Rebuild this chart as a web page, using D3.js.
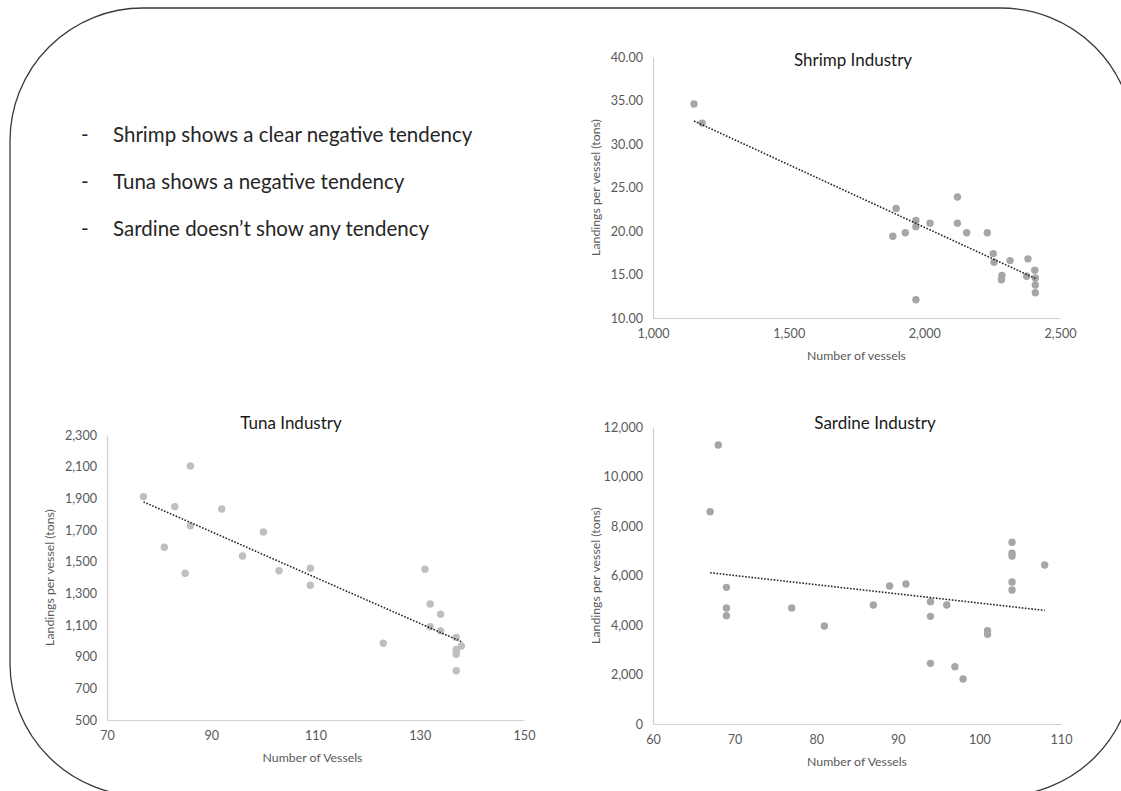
<!DOCTYPE html>
<html>
<head>
<meta charset="utf-8">
<script src="https://cdn.jsdelivr.net/npm/d3@7"></script>
<style>
  html, body { margin: 0; padding: 0; background: #fff; }
  svg { display: block; }
  text { font-family: Lato, "Open Sans", sans-serif; }
</style>
</head>
<body>
<svg id="slide" width="1121" height="791"></svg>
<script>
// ---- Shrimp industry: number of vessels vs landings per vessel (tons)
const shrimpVessels  = [1151, 1181, 1896, 1884, 1930, 1969, 1969, 2021, 2122, 2122, 2156, 2232,
                        2254, 2257, 2316, 2286, 2284, 2382, 2377, 2407, 2409, 2409, 2409, 1969];
const shrimpLandings = [34.6, 32.4, 22.6, 19.4, 19.8, 21.2, 20.5, 20.9, 23.9, 20.9, 19.8, 19.8,
                        17.4, 16.4, 16.6, 14.9, 14.4, 16.8, 14.8, 15.5, 14.6, 13.8, 12.9, 12.1];
const shrimpXTicks = [1000, 1500, 2000, 2500];
const shrimpYTicks = [10, 15, 20, 25, 30, 35, 40];

// ---- Tuna industry
const tunaVessels  = [77, 86, 83, 86, 81, 92, 85, 96, 100, 103, 109, 109,
                      131, 132, 134, 132, 134, 123, 137, 138, 137, 137, 137, 137];
const tunaLandings = [1911, 2105, 1847, 1727, 1591, 1833, 1427, 1536, 1688, 1443, 1458, 1351,
                      1452, 1233, 1168, 1089, 1062, 985, 1022, 967, 946, 931, 915, 811];
const tunaXTicks = [70, 90, 110, 130, 150];
const tunaYTicks = [500, 700, 900, 1100, 1300, 1500, 1700, 1900, 2100, 2300];

// ---- Sardine industry
const sardineVessels  = [68, 67, 69, 69, 69, 77, 81, 87, 89, 91, 94, 94,
                         96, 94, 97, 98, 101, 101, 104, 104, 104, 104, 104, 108];
const sardineLandings = [11273, 8579, 5522, 4687, 4377, 4687, 3960, 4808, 5576, 5657, 4943, 4350,
                         4808, 2451, 2316, 1818, 3771, 3623, 7341, 6896, 6788, 5737, 5414, 6424];
const sardineXTicks = [60, 70, 80, 90, 100, 110];
const sardineYTicks = [0, 2000, 4000, 6000, 8000, 10000, 12000];

// ---- Bullet notes
const notes = [
  "Shrimp shows a clear negative tendency",
  "Tuna shows a negative tendency",
  "Sardine doesn\u2019t show any tendency"
];

const svg = d3.select("#slide");

// Rounded frame around the slide content
svg.append("rect")
  .attr("x", 10).attr("y", 8)
  .attr("width", 1124).attr("height", 788)
  .attr("rx", 133).attr("ry", 133)
  .attr("fill", "none")
  .attr("stroke", "#3a3a3a")
  .attr("stroke-width", 1.3);

// Notes
const noteG = svg.append("g");
notes.forEach((t, i) => {
  const y = 142 + i * 47;
  noteG.append("text").attr("x", 81).attr("y", y)
    .attr("font-size", 20.5).attr("fill", "#262626").text("-");
  noteG.append("text").attr("x", 113).attr("y", y)
    .attr("font-size", 20.5).attr("fill", "#262626").text(t);
});

// Least-squares line through the points
function fit(xs, ys) {
  const n = xs.length;
  const mx = d3.mean(xs), my = d3.mean(ys);
  let sxy = 0, sxx = 0;
  for (let i = 0; i < n; i++) {
    sxy += (xs[i] - mx) * (ys[i] - my);
    sxx += (xs[i] - mx) * (xs[i] - mx);
  }
  const b = sxy / sxx;
  const a = my - b * mx;
  return x => a + b * x;
}

function scatter(opt) {
  const g = svg.append("g");
  const x = d3.scaleLinear().domain(opt.xDomain).range([opt.left, opt.right]);
  const y = d3.scaleLinear().domain(opt.yDomain).range([opt.bottom, opt.top]);

  // Axes
  const xAxis = d3.axisBottom(x).tickValues(opt.xTicks).tickSize(0).tickPadding(11)
    .tickFormat(d3.format(opt.xFormat));
  const yAxis = d3.axisLeft(y).tickValues(opt.yTicks).tickSize(0).tickPadding(10)
    .tickFormat(d3.format(opt.yFormat));

  const gx = g.append("g").attr("transform", `translate(0,${opt.bottom})`).call(xAxis);
  const gy = g.append("g").attr("transform", `translate(${opt.left},0)`).call(yAxis);
  [gx, gy].forEach(a => {
    a.select(".domain").attr("stroke", "#d0d0d0").attr("stroke-width", 1.2);
    a.selectAll("text").attr("fill", "#595959").attr("font-size", 12.6)
      .style("font-family", "Lato, 'Open Sans', sans-serif");
  });

  // Points
  g.append("g").selectAll("circle")
    .data(opt.xs.map((v, i) => [v, opt.ys[i]]))
    .join("circle")
    .attr("cx", d => x(d[0]))
    .attr("cy", d => y(d[1]))
    .attr("r", 3.7)
    .attr("fill", opt.dot);

  // Linear trendline across the data range
  const f = fit(opt.xs, opt.ys);
  const [x0, x1] = d3.extent(opt.xs);
  g.append("line")
    .attr("x1", x(x0)).attr("y1", y(f(x0)))
    .attr("x2", x(x1)).attr("y2", y(f(x1)))
    .attr("stroke", "#262626")
    .attr("stroke-width", 1.6)
    .attr("stroke-dasharray", "1.6 1.6");

  // Titles
  g.append("text").attr("x", opt.titleX).attr("y", opt.titleY)
    .attr("text-anchor", "middle").attr("font-size", 17).attr("fill", "#1a1a1a")
    .text(opt.title);
  g.append("text").attr("x", (opt.left + opt.right) / 2 + opt.xLabelShift).attr("y", opt.bottom + 42)
    .attr("text-anchor", "middle").attr("font-size", 12.3).attr("fill", "#595959")
    .text(opt.xLabel);
  g.append("text")
    .attr("transform", `translate(${opt.yLabelX},${(opt.top + opt.bottom) / 2}) rotate(-90)`)
    .attr("text-anchor", "middle").attr("font-size", 12.3).attr("fill", "#595959")
    .text("Landings per vessel (tons)");
}

scatter({
  xs: shrimpVessels, ys: shrimpLandings,
  xDomain: [1000, 2500], yDomain: [10, 40],
  xTicks: shrimpXTicks, yTicks: shrimpYTicks,
  xFormat: ",", yFormat: ".2f",
  left: 653, right: 1060, top: 57, bottom: 318,
  dot: "#a6a6a6",
  title: "Shrimp Industry", titleX: 853, titleY: 66,
  xLabel: "Number of vessels", xLabelShift: 0, yLabelX: 600
});

scatter({
  xs: tunaVessels, ys: tunaLandings,
  xDomain: [70, 150], yDomain: [500, 2300],
  xTicks: tunaXTicks, yTicks: tunaYTicks,
  xFormat: ",", yFormat: ",",
  left: 107, right: 524, top: 435, bottom: 720,
  dot: "#bfbfbf",
  title: "Tuna Industry", titleX: 291, titleY: 429,
  xLabel: "Number of Vessels", xLabelShift: -3, yLabelX: 54
});

scatter({
  xs: sardineVessels, ys: sardineLandings,
  xDomain: [60, 110], yDomain: [0, 12000],
  xTicks: sardineXTicks, yTicks: sardineYTicks,
  xFormat: ",", yFormat: ",",
  left: 653, right: 1061, top: 427, bottom: 724,
  dot: "#a6a6a6",
  title: "Sardine Industry", titleX: 875, titleY: 429,
  xLabel: "Number of Vessels", xLabelShift: 0, yLabelX: 600
});
</script>
</body>
</html>
